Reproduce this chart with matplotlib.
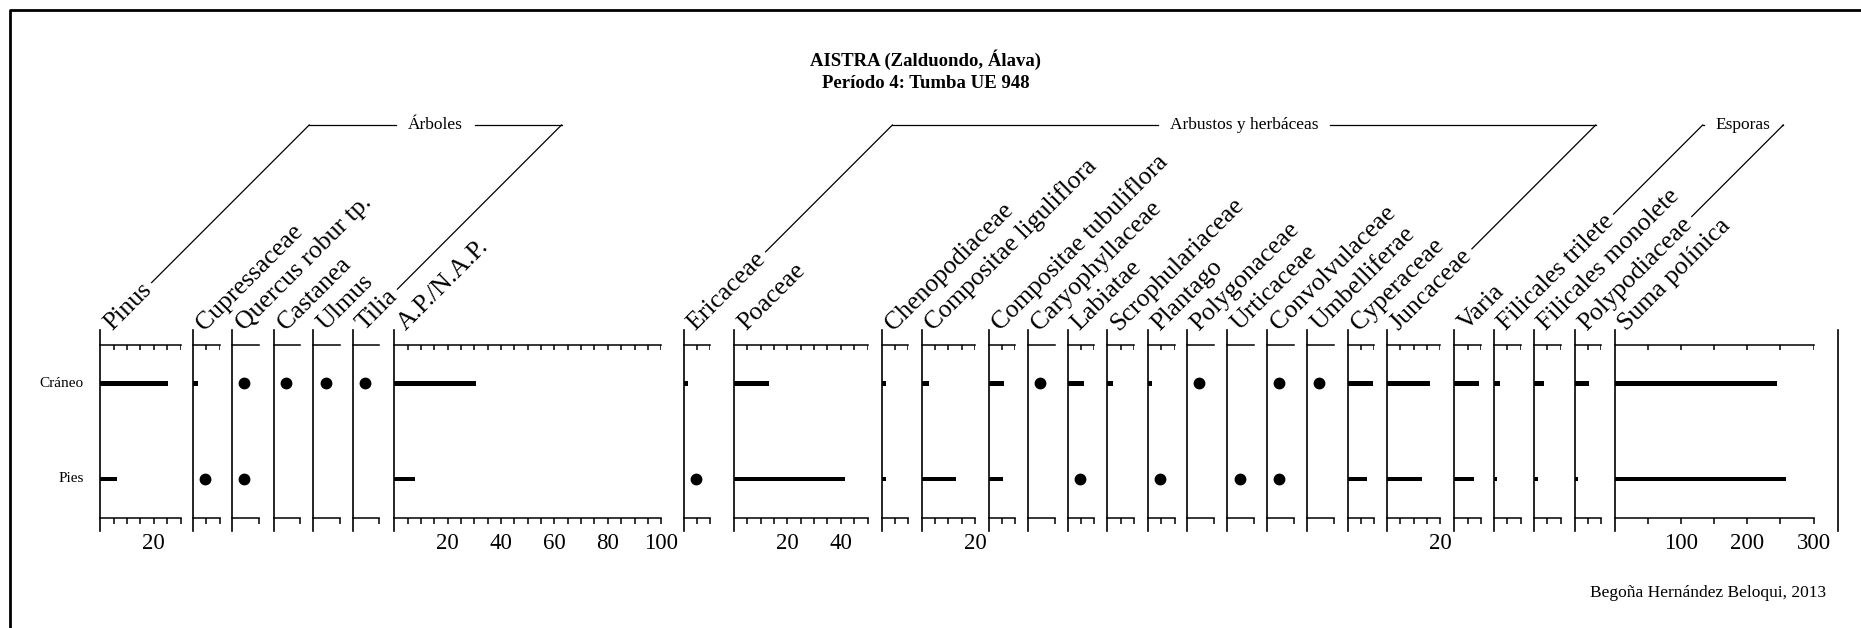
import matplotlib
matplotlib.use('Agg')
import matplotlib.pyplot as plt
import numpy as np
from matplotlib.lines import Line2D

# ---- data ----
taxa = ['Pinus', 'Cupressaceae', 'Quercus robur tp.', 'Castanea', 'Ulmus', 'Tilia',
        'A.P./N.A.P.', 'Ericaceae', 'Poaceae', 'Chenopodiaceae',
        'Compositae liguliflora', 'Compositae tubuliflora', 'Caryophyllaceae',
        'Labiatae', 'Scrophulariaceae', 'Plantago', 'Polygonaceae', 'Urticaceae',
        'Convolvulaceae', 'Umbelliferae', 'Cyperaceae', 'Juncaceae', 'Varia',
        'Filicales trilete', 'Filicales monolete', 'Polypodiaceae', 'Suma polínica']
samples = ['Cráneo', 'Pies']

P = 'p'  # present, drawn as a dot
craneo = [25.5, 1.8, P, P, P, P,
          30.7, 1.7, 13.0, 1.6,
          2.7, 5.8, P,
          6.2, 2.2, 1.6, P, None,
          P, P, 9.5, 16.2, 9.4,
          2.3, 3.7, 5.4, 245]
pies = [6.2, P, P, None, None, None,
        7.9, P, 41.6, 1.6,
        12.8, 5.3, None,
        P, None, P, None, P,
        P, None, 7.3, 13.1, 7.3,
        1.1, 1.5, 1.3, 259]
x_max = [30, 10, 10, 10, 10, 10,
         100, 10, 50, 10,
         20, 10, 10,
         10, 10, 10, 10, 10,
         10, 10, 10, 20, 10,
         10, 10, 10, 300]

groups = [('Árboles', 'Pinus', 'Tilia'),
          ('Arbustos y herbáceas', 'Ericaceae', 'Juncaceae'),
          ('Esporas', 'Filicales trilete', 'Polypodiaceae')]

# ---- layout (pixels, y measured from top) ----
W, H = 1861, 628
panel_left = [100.4, 192.9, 232.1, 273.7, 313.4, 352.7,
              394.2, 683.6, 734.0, 881.8,
              921.5, 988.5, 1027.8,
              1067.5, 1107.2, 1147.9, 1187.0, 1227.3,
              1267.0, 1307.2, 1347.5, 1386.9, 1454.3,
              1493.9, 1533.9, 1574.5, 1614.5]
PX_UNIT = 2.67
SUM_WIDTH = 199
AX_TOP, AX_BOT = 345, 518
ROW_Y = [383.3, 479.0]
LABEL_DX, LABEL_Y = 12, 331
GROUP_Y = 125
DOT_X = 4.6

plt.rcParams['font.family'] = ['Liberation Serif', 'DejaVu Serif']
fig = plt.figure(figsize=(W / 100, H / 100), dpi=100)
fig.patch.set_facecolor('white')


def fx(x):
    return x / W


def fy(y):
    return 1 - y / H


unit = ROW_Y[1] - ROW_Y[0]
y_top = -(ROW_Y[0] - AX_TOP) / unit
y_bot = 1 + (AX_BOT - ROW_Y[1]) / unit
ax_h = AX_BOT - AX_TOP

labels = []
for i, name in enumerate(taxa):
    left = panel_left[i]
    is_sum = name == 'Suma polínica'
    w = SUM_WIDTH if is_sum else x_max[i] * PX_UNIT
    ax = fig.add_axes([fx(left), fy(AX_BOT), w / W, ax_h / H])
    ax.set_xlim(0, x_max[i])
    ax.set_ylim(y_bot, y_top)
    ax.patch.set_alpha(0)
    for s in ['left', 'right']:
        ax.spines[s].set_visible(False)
    for s in ['top', 'bottom']:
        ax.spines[s].set_linewidth(1.1)
    ax.set_yticks([])

    step = 50 if is_sum else 5
    lab_step = 100 if is_sum else 20
    vals = (craneo[i], pies[i])
    dots_only = all(v is None or v == P for v in vals)
    if dots_only:
        ticks = [x_max[i]]
        top_ticks = []
    else:
        ticks = list(np.arange(step, x_max[i] + step / 2, step))
        top_ticks = ticks
    ax.set_xticks(ticks)
    ax.set_xticklabels([f'{t:g}' if t % lab_step == 0 else '' for t in ticks])
    ax.tick_params(axis='x', direction='out', length=4.5, width=1.1,
                   labelsize=16.5, pad=6.5)
    if top_ticks:
        ax.vlines(top_ticks, 1, 1 - 5 / ax_h, transform=ax.get_xaxis_transform(),
                  color='black', lw=1.1)
    ax.axvline(0, ymin=-13 / ax_h, ymax=1 + 15 / ax_h, clip_on=False,
               color='black', lw=1.2)

    for y, v in zip([0, 1], vals):
        if v is None:
            continue
        if v == P:
            ax.plot(DOT_X, y, 'o', ms=7.5, color='black', clip_on=False)
        else:
            ax.barh(y, v, height=0.05, left=0, color='black')

    t = fig.text(fx(left + LABEL_DX), fy(LABEL_Y), name, fontsize=18.5,
                 ha='left', va='baseline', rotation_mode='anchor')
    labels.append(t)

# measure label lengths, then tilt them
renderer = fig.canvas.get_renderer()
label_len = [t.get_window_extent(renderer).width for t in labels]
for t in labels:
    t.set_rotation(45)

s2 = np.sqrt(2)


def label_end(name, gap=5, lift=6.5):
    # point just past the end of a tilted label, slightly above its baseline
    i = taxa.index(name)
    x0 = panel_left[i] + LABEL_DX
    y0 = H - LABEL_Y
    d = (label_len[i] + gap) / s2
    return x0 + d - lift / s2, y0 + d + lift / s2


def disp_line(xs, ys, lw=0.9):
    fig.add_artist(Line2D([x / W for x in xs], [y / H for y in ys],
                          color='black', lw=lw))


gy = H - GROUP_Y
for gname, first, last in groups:
    lx, ly = label_end(first)
    rx, ry = label_end(last)
    ltop = lx + (gy - ly)
    rtop = rx + (gy - ry)
    disp_line([lx, ltop], [ly, gy])
    disp_line([rx, rtop], [ry, gy])
    cx = (ltop + rtop) / 2
    gt = fig.text(cx / W, gy / H, gname, fontsize=12.5, ha='center', va='center')
    tw = gt.get_window_extent(renderer).width
    if cx - tw / 2 - 12 > ltop:
        disp_line([ltop, cx - tw / 2 - 12], [gy, gy])
        disp_line([cx + tw / 2 + 12, rtop], [gy, gy])

# sample names
for name, yy in zip(samples, ROW_Y):
    fig.text(fx(84), fy(yy), name, fontsize=11, ha='right', va='center')

# closing line on the right
fig.add_artist(Line2D([fx(1838), fx(1838)], [fy(330), fy(531)], color='black', lw=1.2))

# titles and credit
fig.text(fx(926), fy(60), 'AISTRA (Zalduondo, Álava)', fontsize=13.5,
         fontweight='bold', ha='center', va='center')
fig.text(fx(926), fy(84), 'Período 4: Tumba UE 948', fontsize=13.5,
         fontweight='bold', ha='center', va='center')
fig.text(fx(1826), fy(593), 'Begoña Hernández Beloqui, 2013', fontsize=12.5,
         ha='right', va='center')

# frame
fig.add_artist(Line2D([fx(10), fx(10), 1], [0, fy(10), fy(10)], color='black', lw=2))

fig.savefig('out.png', dpi=100, facecolor='white')
